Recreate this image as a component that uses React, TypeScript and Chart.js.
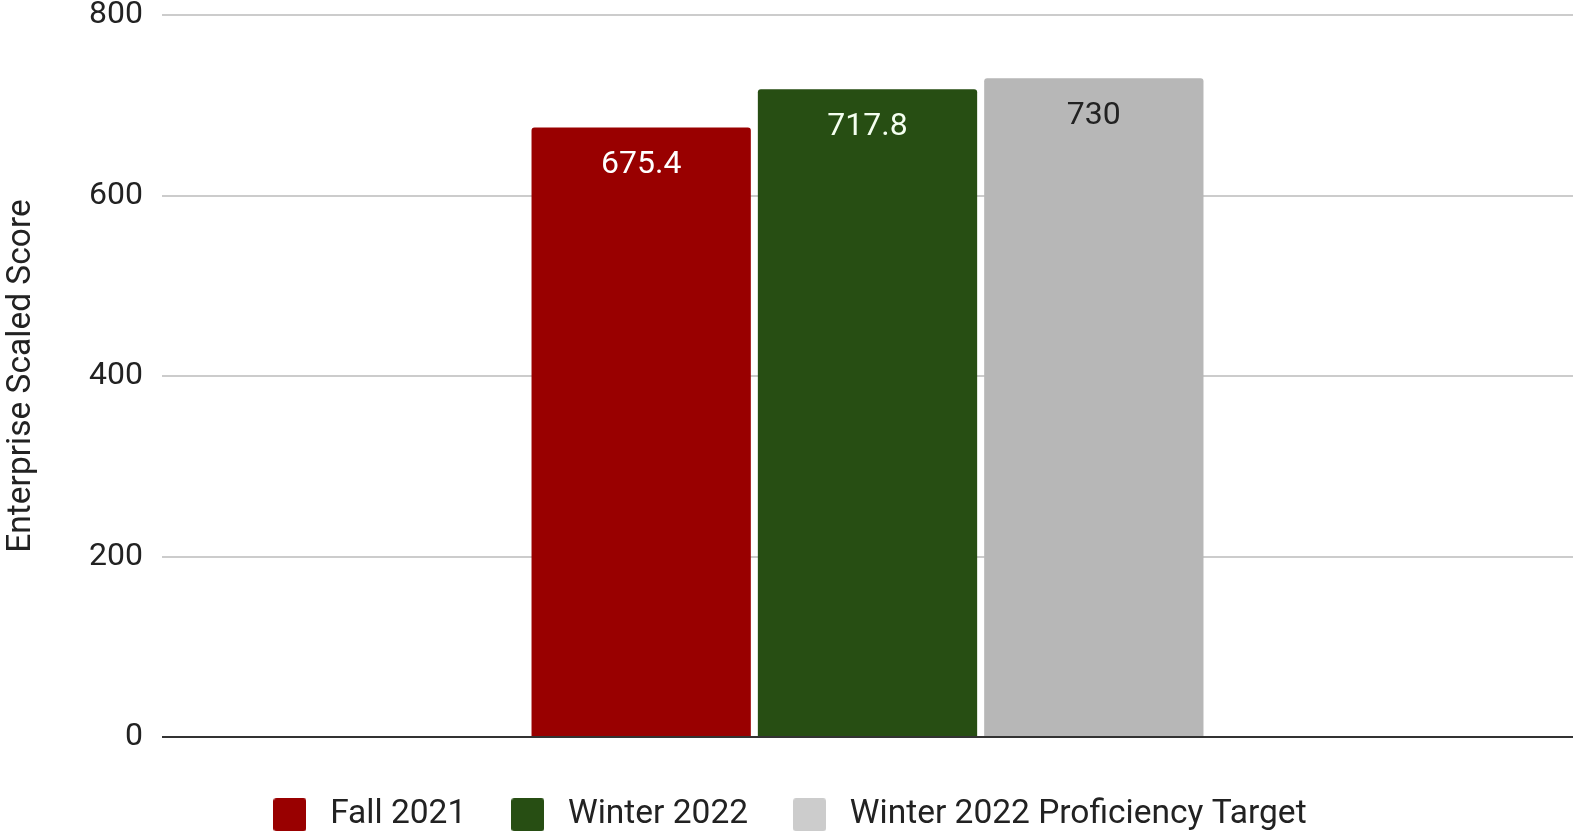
import React, { useEffect, useRef } from "react";
import { Chart, registerables } from "chart.js";

Chart.register(...registerables);

const categories = [""];
const seriesNames = ["Fall 2021", "Winter 2022", "Winter 2022 Proficiency Target"];
const fall2021 = [675.4];
const winter2022 = [717.8];
const proficiencyTarget = [730];
const seriesColors = ["#990000", "#274e13", "#b7b7b7"];
const legendColors = ["#990000", "#274e13", "#cccccc"];
const valueLabelColors = ["#ffffff", "#f4fff0", "#222222"];
const yMin = 0;
const yMax = 800;
const yStep = 200;
const yTitle = "Enterprise Scaled Score";

const FONT = "Roboto";

function makeSwatch(color: string, size: number, r: number) {
  const c = document.createElement("canvas");
  c.width = size;
  c.height = size;
  const g = c.getContext("2d")!;
  g.fillStyle = color;
  g.beginPath();
  g.moveTo(r, 0);
  g.lineTo(size - r, 0);
  g.quadraticCurveTo(size, 0, size, r);
  g.lineTo(size, size - r);
  g.quadraticCurveTo(size, size, size - r, size);
  g.lineTo(r, size);
  g.quadraticCurveTo(0, size, 0, size - r);
  g.lineTo(0, r);
  g.quadraticCurveTo(0, 0, r, 0);
  g.closePath();
  g.fill();
  return c;
}

const valueLabelPlugin = {
  id: "valueLabels",
  afterDatasetsDraw(chart: any) {
    const ctx = chart.ctx;
    ctx.save();
    ctx.font = `32px ${FONT}`;
    ctx.textAlign = "center";
    ctx.textBaseline = "middle";
    chart.data.datasets.forEach((ds: any, i: number) => {
      const meta = chart.getDatasetMeta(i);
      meta.data.forEach((bar: any, j: number) => {
        const v = ds.data[j];
        ctx.fillStyle = valueLabelColors[i];
        ctx.fillText(String(v), bar.x, bar.y + 38);
      });
    });
    ctx.restore();
  },
};

export default function App() {
  const ref = useRef<HTMLCanvasElement | null>(null);

  useEffect(() => {
    document.body.style.margin = "0";
    const canvas = ref.current;
    if (!canvas) return;
    const seriesData = [fall2021, winter2022, proficiencyTarget];
    const swatches = legendColors.map((c) => makeSwatch(c, 33, 3));
    const chart = new Chart(canvas, {
      type: "bar",
      data: {
        labels: categories,
        datasets: seriesNames.map((name, i) => ({
          label: name,
          data: seriesData[i],
          backgroundColor: seriesColors[i],
          borderWidth: 0,
          borderRadius: { topLeft: 3, topRight: 3, bottomLeft: 0, bottomRight: 0 },
          borderSkipped: false,
          categoryPercentage: 0.4812,
          barPercentage: 0.969,
        })),
      },
      options: {
        responsive: false,
        animation: false,
        layout: { padding: { top: 15, right: 0, left: 0, bottom: 0 } },
        plugins: {
          tooltip: { enabled: false },
          legend: {
            position: "bottom",
            maxHeight: 73,
            labels: {
              usePointStyle: true,
              pointStyleWidth: 47,
              boxHeight: 33,
              padding: 38,
              color: "#222222",
              font: { family: FONT, size: 33.5 },
              generateLabels: (c: any) =>
                c.data.datasets.map((ds: any, i: number) => ({
                  text: ds.label,
                  fillStyle: legendColors[i],
                  strokeStyle: legendColors[i],
                  pointStyle: swatches[i],
                  lineWidth: 0,
                  hidden: false,
                  datasetIndex: i,
                  fontColor: "#222222",
                })),
            },
          },
        },
        scales: {
          x: {
            display: true,
            grid: { display: false, drawTicks: false },
            border: { display: false },
            ticks: { display: false },
            afterFit: (s: any) => {
              s.height = 23;
              s.paddingLeft = 0;
              s.paddingRight = 0;
              s.paddingTop = 0;
              s.paddingBottom = 0;
            },
          },
          y: {
            min: yMin,
            max: yMax,
            ticks: {
              stepSize: yStep,
              padding: 19,
              color: "#222222",
              font: { family: FONT, size: 32, lineHeight: 1 },
            },
            grid: {
              drawTicks: false,
              lineWidth: 2,
              color: (c: any) => (c.tick && c.tick.value === 0 ? "#333333" : "#cccccc"),
            },
            border: { display: false },
            title: {
              display: true,
              text: yTitle,
              color: "#222222",
              font: { family: FONT, size: 33.5 },
              padding: { top: 2, bottom: 0 },
            },
            afterFit: (s: any) => {
              s.width = 162;
              s.paddingTop = 0;
              s.paddingBottom = 0;
              s.paddingLeft = 0;
              s.paddingRight = 0;
            },
          },
        },
      },
      plugins: [valueLabelPlugin],
    });
    return () => chart.destroy();
  }, []);

  return (
    <div style={{ width: 1573, height: 833 }}>
      <canvas ref={ref} width={1573} height={833} style={{ display: "block", width: 1573, height: 833 }} />
    </div>
  );
}
